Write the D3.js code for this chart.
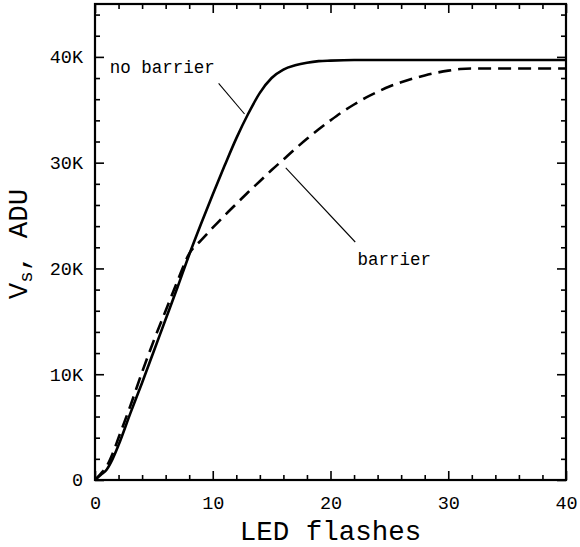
<!DOCTYPE html>
<html>
<head>
<meta charset="utf-8">
<script src="https://cdn.jsdelivr.net/npm/d3@7"></script>
<style>
  body { margin: 0; background: #fff; }
  svg { display: block; }
  .axis text { font-family: "Liberation Mono", "DejaVu Sans Mono", monospace; font-size: 18.5px; fill: #000; }
  .axis .domain { display: none; }
  .axis line { stroke: #000; stroke-width: 1.6; }
</style>
</head>
<body>
<svg id="chart" width="580" height="547"></svg>
<script>
// LED flashes (x) vs V_s in ADU (y)
const flashesNoBarrier = [0, 0.5, 1, 1.5, 2, 3, 4, 5, 6, 7, 8, 9, 10, 11, 12, 13, 14, 15, 16, 17, 18, 19, 20, 22, 25, 30, 35, 40];
const vsNoBarrier = [0, 500, 1000, 2000, 3300, 6300, 9200, 12200, 15200, 18200, 21300, 24200, 27000, 29700, 32300, 34600, 36600, 38000, 38800, 39200, 39450, 39600, 39650, 39700, 39700, 39700, 39700, 39700];

const flashesBarrier = [0, 0.5, 1, 1.5, 2, 3, 4, 5, 6, 7, 8, 9, 10, 11, 12, 13, 14, 15, 16, 17, 18, 19, 20, 21, 22, 23, 24, 25, 26, 27, 28, 29, 30, 31, 32, 35, 40];
const vsBarrier = [0, 600, 1300, 2500, 4000, 7000, 10200, 13200, 16000, 18800, 21400, 22650, 23850, 25000, 26100, 27200, 28250, 29300, 30300, 31300, 32250, 33150, 34000, 34800, 35500, 36150, 36700, 37200, 37600, 37950, 38250, 38500, 38700, 38850, 38900, 38900, 38900];

const xTicks = [0, 10, 20, 30, 40];
const yTicks = [0, 10000, 20000, 30000, 40000];
const yTickLabels = ["0", "10K", "20K", "30K", "40K"];

const svg = d3.select("#chart");
const margin = { top: 4, right: 14, bottom: 67, left: 95 },
    width = +svg.attr("width") - margin.left - margin.right,
    height = +svg.attr("height") - margin.top - margin.bottom;

const g = svg.append("g").attr("transform", "translate(" + margin.left + "," + margin.top + ")");

const x = d3.scaleLinear().domain([0, 40]).range([0, width]);
const y = d3.scaleLinear().domain([0, 45000]).range([height, 0]);

const minorX = d3.range(0, 41, 2).filter(v => v % 10 !== 0);
const minorY = d3.range(0, 45001, 2000).filter(v => v % 10000 !== 0);

// major ticks with labels
g.append("g")
    .attr("class", "axis")
    .attr("transform", "translate(0," + height + ")")
    .call(d3.axisBottom(x).tickValues(xTicks).tickSizeInner(-9).tickSizeOuter(0).tickPadding(16));

g.append("g")
    .attr("class", "axis")
    .call(d3.axisLeft(y).tickValues(yTicks).tickFormat((d, i) => yTickLabels[i]).tickSizeInner(-9).tickSizeOuter(0).tickPadding(12));

// unlabeled ticks on top and right
g.append("g")
    .attr("class", "axis")
    .call(d3.axisTop(x).tickValues(xTicks).tickFormat("").tickSizeInner(-9).tickSizeOuter(0));

g.append("g")
    .attr("class", "axis")
    .attr("transform", "translate(" + width + ",0)")
    .call(d3.axisRight(y).tickValues(yTicks).tickFormat("").tickSizeInner(-9).tickSizeOuter(0));

// minor ticks
g.append("g")
    .attr("class", "axis")
    .attr("transform", "translate(0," + height + ")")
    .call(d3.axisBottom(x).tickValues(minorX).tickFormat("").tickSizeInner(-5).tickSizeOuter(0));
g.append("g")
    .attr("class", "axis")
    .call(d3.axisTop(x).tickValues(minorX).tickFormat("").tickSizeInner(-5).tickSizeOuter(0));
g.append("g")
    .attr("class", "axis")
    .call(d3.axisLeft(y).tickValues(minorY).tickFormat("").tickSizeInner(-5).tickSizeOuter(0));
g.append("g")
    .attr("class", "axis")
    .attr("transform", "translate(" + width + ",0)")
    .call(d3.axisRight(y).tickValues(minorY).tickFormat("").tickSizeInner(-5).tickSizeOuter(0));

// frame
g.append("rect")
    .attr("x", 0).attr("y", 0)
    .attr("width", width).attr("height", height)
    .attr("fill", "none")
    .attr("stroke", "#000")
    .attr("stroke-width", 2.2);

const line = d3.line()
    .x(d => x(d[0]))
    .y(d => y(d[1]))
    .curve(d3.curveMonotoneX);

g.append("path")
    .datum(flashesNoBarrier.map((f, i) => [f, vsNoBarrier[i]]))
    .attr("fill", "none")
    .attr("stroke", "#000")
    .attr("stroke-width", 2.6)
    .attr("d", line);

g.append("path")
    .datum(flashesBarrier.map((f, i) => [f, vsBarrier[i]]))
    .attr("fill", "none")
    .attr("stroke", "#000")
    .attr("stroke-width", 2.6)
    .attr("stroke-dasharray", "13,7")
    .attr("d", line);

// curve labels with leader lines
const labelFont = "\"Liberation Mono\", \"DejaVu Sans Mono\", monospace";

g.append("text")
    .attr("x", x(1.25)).attr("y", y(38500))
    .attr("font-family", labelFont).attr("font-size", 17.5)
    .text("no barrier");
g.append("line")
    .attr("x1", x(10.5)).attr("y1", y(37500))
    .attr("x2", x(12.7)).attr("y2", y(34600))
    .attr("stroke", "#000").attr("stroke-width", 1.1);

g.append("text")
    .attr("x", x(22.3)).attr("y", y(20300))
    .attr("font-family", labelFont).attr("font-size", 17.5)
    .text("barrier");
g.append("line")
    .attr("x1", x(16.2)).attr("y1", y(29500))
    .attr("x2", x(22.1)).attr("y2", y(22500))
    .attr("stroke", "#000").attr("stroke-width", 1.1);

// axis titles
svg.append("text")
    .attr("x", margin.left + width / 2)
    .attr("y", 540)
    .attr("text-anchor", "middle")
    .attr("font-family", labelFont)
    .attr("font-size", 27.5)
    .text("LED flashes");

const yTitle = svg.append("text")
    .attr("transform", "translate(27," + 244 + ") rotate(-90)")
    .attr("text-anchor", "middle")
    .attr("font-family", labelFont)
    .attr("font-size", 27.5);
yTitle.append("tspan").text("V");
yTitle.append("tspan").attr("font-size", 19).attr("dy", 5).text("s");
yTitle.append("tspan").attr("dy", -5).text(", ADU");
</script>
</body>
</html>
